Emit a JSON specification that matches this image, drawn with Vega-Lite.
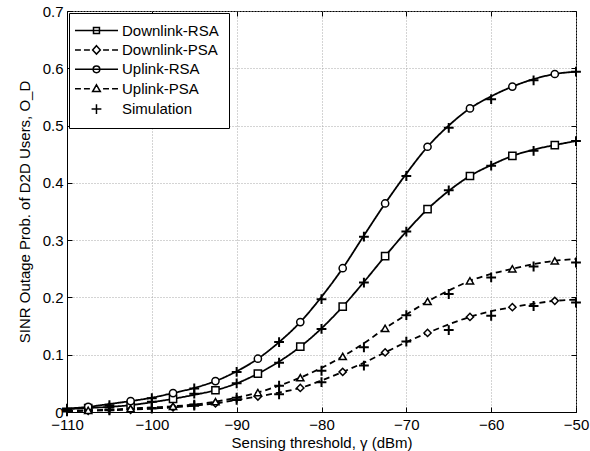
{
  "$schema": "https://vega.github.io/schema/vega-lite/v6.json",
  "width": 509,
  "height": 401,
  "autosize": {"type": "none"},
  "padding": {"left": 67, "top": 11, "right": 14, "bottom": 39},
  "background": "white",
  "config": {
    "font": "Liberation Sans",
    "view": {"stroke": "black", "strokeWidth": 1},
    "axis": {
      "labelFont": "Liberation Sans", "labelFontSize": 15, "labelColor": "black",
      "titleFont": "Liberation Sans", "titleFontSize": 15, "titleFontWeight": "normal", "titleColor": "black",
      "domainColor": "black", "tickColor": "black", "tickWidth": 1, "tickSize": -5,
      "gridColor": "#a8a8a8", "gridDash": [1, 2], "gridWidth": 1
    },
    "legend": {
      "labelFont": "Liberation Sans", "labelFontSize": 15, "labelColor": "black"
    }
  },
  "datasets": {
    "curves": [
      {"s":"Downlink-RSA","x":-110,"y":0.005},{"s":"Downlink-RSA","x":-107.5,"y":0.007},{"s":"Downlink-RSA","x":-105,"y":0.009},{"s":"Downlink-RSA","x":-102.5,"y":0.012},{"s":"Downlink-RSA","x":-100,"y":0.017},{"s":"Downlink-RSA","x":-97.5,"y":0.023},{"s":"Downlink-RSA","x":-95,"y":0.030},{"s":"Downlink-RSA","x":-92.5,"y":0.038},{"s":"Downlink-RSA","x":-90,"y":0.050},{"s":"Downlink-RSA","x":-87.5,"y":0.067},{"s":"Downlink-RSA","x":-85,"y":0.088},{"s":"Downlink-RSA","x":-82.5,"y":0.114},{"s":"Downlink-RSA","x":-80,"y":0.146},{"s":"Downlink-RSA","x":-77.5,"y":0.184},{"s":"Downlink-RSA","x":-75,"y":0.227},{"s":"Downlink-RSA","x":-72.5,"y":0.272},{"s":"Downlink-RSA","x":-70,"y":0.315},{"s":"Downlink-RSA","x":-67.5,"y":0.354},{"s":"Downlink-RSA","x":-65,"y":0.386},{"s":"Downlink-RSA","x":-62.5,"y":0.412},{"s":"Downlink-RSA","x":-60,"y":0.431},{"s":"Downlink-RSA","x":-57.5,"y":0.447},{"s":"Downlink-RSA","x":-55,"y":0.458},{"s":"Downlink-RSA","x":-52.5,"y":0.466},{"s":"Downlink-RSA","x":-50,"y":0.473},
      {"s":"Downlink-PSA","x":-110,"y":0.0015},{"s":"Downlink-PSA","x":-107.5,"y":0.002},{"s":"Downlink-PSA","x":-105,"y":0.003},{"s":"Downlink-PSA","x":-102.5,"y":0.004},{"s":"Downlink-PSA","x":-100,"y":0.006},{"s":"Downlink-PSA","x":-97.5,"y":0.008},{"s":"Downlink-PSA","x":-95,"y":0.011},{"s":"Downlink-PSA","x":-92.5,"y":0.015},{"s":"Downlink-PSA","x":-90,"y":0.021},{"s":"Downlink-PSA","x":-87.5,"y":0.027},{"s":"Downlink-PSA","x":-85,"y":0.034},{"s":"Downlink-PSA","x":-82.5,"y":0.042},{"s":"Downlink-PSA","x":-80,"y":0.055},{"s":"Downlink-PSA","x":-77.5,"y":0.070},{"s":"Downlink-PSA","x":-75,"y":0.086},{"s":"Downlink-PSA","x":-72.5,"y":0.104},{"s":"Downlink-PSA","x":-70,"y":0.122},{"s":"Downlink-PSA","x":-67.5,"y":0.138},{"s":"Downlink-PSA","x":-65,"y":0.153},{"s":"Downlink-PSA","x":-62.5,"y":0.166},{"s":"Downlink-PSA","x":-60,"y":0.176},{"s":"Downlink-PSA","x":-57.5,"y":0.183},{"s":"Downlink-PSA","x":-55,"y":0.189},{"s":"Downlink-PSA","x":-52.5,"y":0.194},{"s":"Downlink-PSA","x":-50,"y":0.196},
      {"s":"Uplink-RSA","x":-110,"y":0.006},{"s":"Uplink-RSA","x":-107.5,"y":0.009},{"s":"Uplink-RSA","x":-105,"y":0.014},{"s":"Uplink-RSA","x":-102.5,"y":0.019},{"s":"Uplink-RSA","x":-100,"y":0.025},{"s":"Uplink-RSA","x":-97.5,"y":0.033},{"s":"Uplink-RSA","x":-95,"y":0.042},{"s":"Uplink-RSA","x":-92.5,"y":0.054},{"s":"Uplink-RSA","x":-90,"y":0.071},{"s":"Uplink-RSA","x":-87.5,"y":0.093},{"s":"Uplink-RSA","x":-85,"y":0.122},{"s":"Uplink-RSA","x":-82.5,"y":0.157},{"s":"Uplink-RSA","x":-80,"y":0.201},{"s":"Uplink-RSA","x":-77.5,"y":0.251},{"s":"Uplink-RSA","x":-75,"y":0.308},{"s":"Uplink-RSA","x":-72.5,"y":0.364},{"s":"Uplink-RSA","x":-70,"y":0.416},{"s":"Uplink-RSA","x":-67.5,"y":0.463},{"s":"Uplink-RSA","x":-65,"y":0.500},{"s":"Uplink-RSA","x":-62.5,"y":0.530},{"s":"Uplink-RSA","x":-60,"y":0.551},{"s":"Uplink-RSA","x":-57.5,"y":0.568},{"s":"Uplink-RSA","x":-55,"y":0.581},{"s":"Uplink-RSA","x":-52.5,"y":0.590},{"s":"Uplink-RSA","x":-50,"y":0.594},
      {"s":"Uplink-PSA","x":-110,"y":0.002},{"s":"Uplink-PSA","x":-107.5,"y":0.003},{"s":"Uplink-PSA","x":-105,"y":0.004},{"s":"Uplink-PSA","x":-102.5,"y":0.006},{"s":"Uplink-PSA","x":-100,"y":0.008},{"s":"Uplink-PSA","x":-97.5,"y":0.010},{"s":"Uplink-PSA","x":-95,"y":0.013},{"s":"Uplink-PSA","x":-92.5,"y":0.018},{"s":"Uplink-PSA","x":-90,"y":0.025},{"s":"Uplink-PSA","x":-87.5,"y":0.034},{"s":"Uplink-PSA","x":-85,"y":0.046},{"s":"Uplink-PSA","x":-82.5,"y":0.060},{"s":"Uplink-PSA","x":-80,"y":0.077},{"s":"Uplink-PSA","x":-77.5,"y":0.097},{"s":"Uplink-PSA","x":-75,"y":0.120},{"s":"Uplink-PSA","x":-72.5,"y":0.146},{"s":"Uplink-PSA","x":-70,"y":0.170},{"s":"Uplink-PSA","x":-67.5,"y":0.193},{"s":"Uplink-PSA","x":-65,"y":0.212},{"s":"Uplink-PSA","x":-62.5,"y":0.229},{"s":"Uplink-PSA","x":-60,"y":0.241},{"s":"Uplink-PSA","x":-57.5,"y":0.250},{"s":"Uplink-PSA","x":-55,"y":0.258},{"s":"Uplink-PSA","x":-52.5,"y":0.264},{"s":"Uplink-PSA","x":-50,"y":0.267}
    ],
    "sim": [
      {"s":"Downlink-RSA","x":-110,"y":0.005},{"s":"Downlink-RSA","x":-105,"y":0.008},{"s":"Downlink-RSA","x":-100,"y":0.018},{"s":"Downlink-RSA","x":-95,"y":0.032},{"s":"Downlink-RSA","x":-90,"y":0.050},{"s":"Downlink-RSA","x":-85,"y":0.086},{"s":"Downlink-RSA","x":-80,"y":0.145},{"s":"Downlink-RSA","x":-75,"y":0.226},{"s":"Downlink-RSA","x":-70,"y":0.315},{"s":"Downlink-RSA","x":-65,"y":0.387},{"s":"Downlink-RSA","x":-60,"y":0.430},{"s":"Downlink-RSA","x":-55,"y":0.456},{"s":"Downlink-RSA","x":-50,"y":0.473},
      {"s":"Downlink-PSA","x":-110,"y":0.001},{"s":"Downlink-PSA","x":-105,"y":0.003},{"s":"Downlink-PSA","x":-100,"y":0.006},{"s":"Downlink-PSA","x":-95,"y":0.011},{"s":"Downlink-PSA","x":-90,"y":0.021},{"s":"Downlink-PSA","x":-85,"y":0.031},{"s":"Downlink-PSA","x":-80,"y":0.052},{"s":"Downlink-PSA","x":-75,"y":0.081},{"s":"Downlink-PSA","x":-70,"y":0.123},{"s":"Downlink-PSA","x":-65,"y":0.143},{"s":"Downlink-PSA","x":-60,"y":0.168},{"s":"Downlink-PSA","x":-55,"y":0.185},{"s":"Downlink-PSA","x":-50,"y":0.191},
      {"s":"Uplink-RSA","x":-110,"y":0.006},{"s":"Uplink-RSA","x":-105,"y":0.012},{"s":"Uplink-RSA","x":-100,"y":0.024},{"s":"Uplink-RSA","x":-95,"y":0.041},{"s":"Uplink-RSA","x":-90,"y":0.070},{"s":"Uplink-RSA","x":-85,"y":0.122},{"s":"Uplink-RSA","x":-80,"y":0.197},{"s":"Uplink-RSA","x":-75,"y":0.306},{"s":"Uplink-RSA","x":-70,"y":0.412},{"s":"Uplink-RSA","x":-65,"y":0.496},{"s":"Uplink-RSA","x":-60,"y":0.546},{"s":"Uplink-RSA","x":-55,"y":0.579},{"s":"Uplink-RSA","x":-50,"y":0.594},
      {"s":"Uplink-PSA","x":-110,"y":0.002},{"s":"Uplink-PSA","x":-105,"y":0.004},{"s":"Uplink-PSA","x":-100,"y":0.007},{"s":"Uplink-PSA","x":-95,"y":0.013},{"s":"Uplink-PSA","x":-90,"y":0.025},{"s":"Uplink-PSA","x":-85,"y":0.046},{"s":"Uplink-PSA","x":-80,"y":0.072},{"s":"Uplink-PSA","x":-75,"y":0.113},{"s":"Uplink-PSA","x":-70,"y":0.169},{"s":"Uplink-PSA","x":-65,"y":0.206},{"s":"Uplink-PSA","x":-60,"y":0.235},{"s":"Uplink-PSA","x":-55,"y":0.254},{"s":"Uplink-PSA","x":-50,"y":0.261}
    ]
  },
  "layer": [
    {
      "data": {"name": "curves"},
      "mark": {"type": "line", "color": "black", "strokeWidth": 1.8, "interpolate": "monotone"},
      "encoding": {
        "x": {"field": "x", "type": "quantitative",
              "scale": {"domain": [-110, -50], "nice": false, "zero": false},
              "axis": {"orient": "bottom", "values": [-110, -100, -90, -80, -70, -60, -50], "title": "Sensing threshold, γ (dBm)",
                       "grid": true, "labelPadding": 10, "titlePadding": 3, "labelFlush": false}},
        "y": {"field": "y", "type": "quantitative",
              "scale": {"domain": [0, 0.7], "nice": false},
              "axis": {"orient": "left", "values": [0, 0.1, 0.2, 0.3, 0.4, 0.5, 0.6, 0.7], "format": "~g",
                       "title": "SINR Outage Prob. of D2D Users, O_D", "grid": true, "labelPadding": 9, "titlePadding": 10, "labelFlush": false}},
        "strokeDash": {"field": "s", "type": "nominal",
                       "scale": {"domain": ["Downlink-RSA", "Downlink-PSA", "Uplink-RSA", "Uplink-PSA"], "range": [[1, 0], [6, 4], [1, 0], [6, 4]]},
                       "legend": null}
      }
    },
    {
      "data": {"name": "curves"},
      "mark": {"type": "point", "opacity": 0},
      "encoding": {
        "x": {"field": "x", "type": "quantitative",
              "axis": {"orient": "top", "values": [-110, -100, -90, -80, -70, -60, -50], "labels": false, "title": null, "grid": false, "domain": false}},
        "y": {"field": "y", "type": "quantitative",
              "axis": {"orient": "right", "values": [0, 0.1, 0.2, 0.3, 0.4, 0.5, 0.6, 0.7], "labels": false, "title": null, "grid": false, "domain": false}}
      }
    },
    {
      "data": {"name": "curves"},
      "transform": [{"filter": "datum.x % 5 != 0"}],
      "mark": {"type": "point", "filled": true, "fill": "white", "stroke": "black", "strokeWidth": 1.5, "size": 52, "opacity": 1},
      "encoding": {
        "x": {"field": "x", "type": "quantitative", "axis": null},
        "y": {"field": "y", "type": "quantitative", "axis": null},
        "shape": {"condition": [
                    {"test": "datum.s === 'Downlink-RSA'", "value": "square"},
                    {"test": "datum.s === 'Downlink-PSA'", "value": "diamond"},
                    {"test": "datum.s === 'Uplink-RSA'", "value": "circle"}
                  ], "value": "triangle-up"}
      }
    },
    {
      "data": {"name": "sim"},
      "mark": {"type": "point", "filled": true, "fill": "white", "stroke": "black", "strokeWidth": 2, "size": 49, "opacity": 1, "shape": "M-1.4,0H1.4M0,-1.4V1.4"},
      "encoding": {
        "x": {"field": "x", "type": "quantitative", "axis": null},
        "y": {"field": "y", "type": "quantitative", "axis": null}
      }
    },
    {
      "data": {"name": "sim"},
      "transform": [{"filter": "false"}],
      "mark": {"type": "point", "filled": true, "fill": "white", "stroke": "black", "strokeWidth": 1.5, "size": 49, "opacity": 1},
      "encoding": {
        "x": {"field": "x", "type": "quantitative", "axis": null},
        "y": {"field": "y", "type": "quantitative", "axis": null},
        "shape": {"field": "s", "type": "nominal",
                  "scale": {"domain": ["Downlink-RSA", "Downlink-PSA", "Uplink-RSA", "Uplink-PSA", "Simulation"],
                            "range": [
                              "M-3.29,0H9M2,-0.85H3.7V0.85H2Z",
                              "M-3.29,0H-1.59M-0.73,0H0.97M4.73,0H6.43M7.3,0H9M2.85,-1.2L3.95,0L2.85,1.2L1.75,0Z",
                              "M-3.29,0H9M3.8,0A0.95,0.95,0,1,1,1.9,0A0.95,0.95,0,1,1,3.8,0Z",
                              "M-3.29,0H-1.59M-0.73,0H0.97M4.73,0H6.43M7.3,0H9M2.85,-1.1L3.95,0.8H1.75Z",
                              "M1.45,0H4.25M2.85,-1.4V1.4"
                            ]},
                  "legend": {
                    "title": null, "orient": "top-left", "offset": 2, "padding": 10,
                    "fillColor": "white", "strokeColor": "black",
                    "symbolSize": 49, "labelFontSize": 15, "labelOffset": 28, "rowPadding": 3.4
                  }}
      }
    }
  ],
  "resolve": {"axis": {"x": "independent", "y": "independent"}}
}
